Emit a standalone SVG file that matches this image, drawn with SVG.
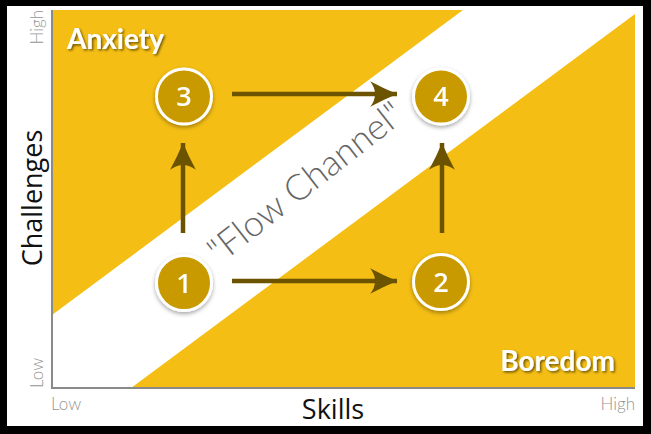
<svg xmlns="http://www.w3.org/2000/svg" width="651" height="434" viewBox="0 0 651 434">
<style>
.bg{fill:#F4BE14}
.axis{stroke:#8a8a8a;stroke-width:2;fill:none}
.tick{font-family:Lato,"Open Sans",sans-serif;font-weight:300;font-size:17px;fill:#959595}
.title{font-family:"Open Sans","Noto Sans",sans-serif;font-size:27px;fill:#111}
.zone{font-family:Lato,"Open Sans",sans-serif;font-weight:700;font-size:28px;fill:#fff}
.node circle{fill:#C99A00;stroke:#fff;stroke-width:3}
.node text{font-family:"Open Sans","Noto Sans",sans-serif;font-weight:600;font-size:27px;fill:#fff;text-anchor:middle}
.arrow{stroke:#6B5300;stroke-width:4.5;fill:none}
.flow{font-family:Lato,"Open Sans",sans-serif;font-weight:300;font-size:36px;fill:#666;text-anchor:middle}
</style>
<defs>
<filter id="sh" x="-30%" y="-30%" width="160%" height="170%">
<feDropShadow dx="0" dy="2" stdDeviation="2" flood-color="#000" flood-opacity="0.35"/>
</filter>
<filter id="tsh" x="-10%" y="-20%" width="120%" height="150%">
<feDropShadow dx="1.5" dy="1.5" stdDeviation="0.8" flood-color="#000" flood-opacity="0.55"/>
</filter>
<marker id="ah" markerUnits="userSpaceOnUse" markerWidth="30" markerHeight="30" viewBox="-26 -13 28 26" refX="0" refY="0" orient="auto">
<path d="M0,0 Q-12,-5 -25,-12 Q-16,0 -25,12 Q-12,5 0,0 Z" fill="#6B5300"/>
</marker>
</defs>
<rect x="0" y="0" width="651" height="434" fill="#000"/>
<rect x="7" y="6" width="636" height="420" fill="#fff"/>
<g id="background">
<polygon class="bg" points="52,10 463,10 52,315"/>
<polygon class="bg" points="635,14 635,388 131,388"/>
<path class="axis" d="M52,10 V388 H635"/>
</g>
<g id="labels">
<text class="tick" transform="translate(43,10) rotate(-90)" text-anchor="end">High</text>
<text class="tick" transform="translate(43,388) rotate(-90)" text-anchor="start">Low</text>
<text class="tick" x="51" y="410">Low</text>
<text class="tick" x="635" y="410" text-anchor="end">High</text>
<text class="title" transform="translate(42,198) rotate(-90)" text-anchor="middle">Challenges</text>
<text class="title" x="333" y="419" text-anchor="middle">Skills</text>
<text class="zone" x="67" y="49" filter="url(#tsh)">Anxiety</text>
<text class="zone" x="615" y="371" text-anchor="end" filter="url(#tsh)">Boredom</text>
<text class="flow" transform="translate(313,192) rotate(-38)">"Flow Channel"</text>
</g>
<g id="connectors">
<line class="arrow" x1="232" y1="94" x2="397" y2="94" marker-end="url(#ah)"/>
<line class="arrow" x1="232" y1="281" x2="397" y2="281" marker-end="url(#ah)"/>
<line class="arrow" x1="183" y1="233" x2="183" y2="143" marker-end="url(#ah)"/>
<line class="arrow" x1="442" y1="233" x2="442" y2="143" marker-end="url(#ah)"/>
</g>
<g id="node1" class="node" filter="url(#sh)"><circle cx="184" cy="283" r="27.5"/><text x="184" y="292.5">1</text></g>
<g id="node2" class="node" filter="url(#sh)"><circle cx="441" cy="282" r="27.5"/><text x="441" y="291.5">2</text></g>
<g id="node3" class="node" filter="url(#sh)"><circle cx="184" cy="96.5" r="27.5"/><text x="184" y="106">3</text></g>
<g id="node4" class="node" filter="url(#sh)"><circle cx="441" cy="96.5" r="27.5"/><text x="441" y="106">4</text></g>
</svg>
